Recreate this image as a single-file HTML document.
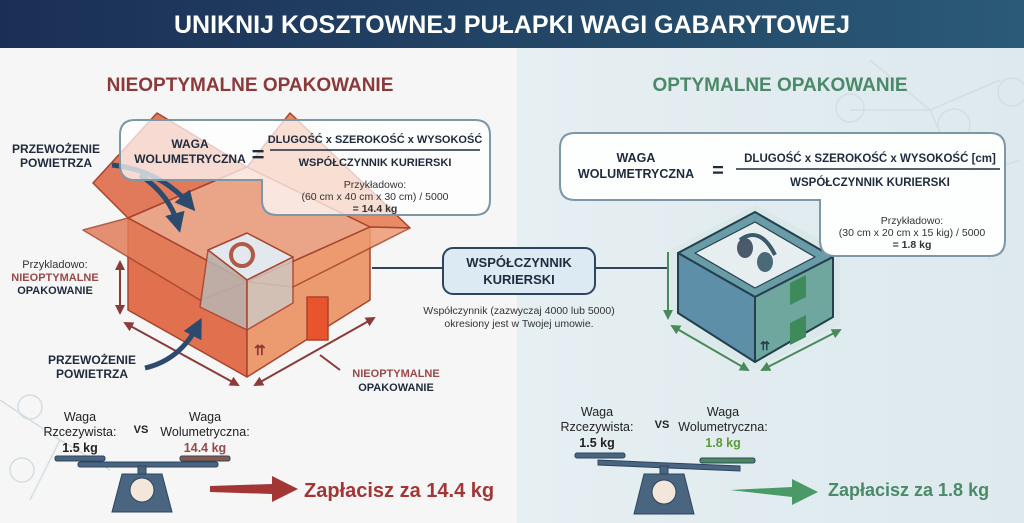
<!DOCTYPE html>
<html><head><meta charset="utf-8"><style>
html,body{margin:0;padding:0;width:1024px;height:523px;overflow:hidden;font-family:"Liberation Sans",sans-serif}
</style></head><body>
<svg width="1024" height="523" viewBox="0 0 1024 523" xmlns="http://www.w3.org/2000/svg" font-family="Liberation Sans, sans-serif">
<defs>
<linearGradient id="hdr" x1="0" x2="1"><stop offset="0" stop-color="#1b2f55"/><stop offset="1" stop-color="#2a5a76"/></linearGradient>
<linearGradient id="rbg" x1="0" x2="1"><stop offset="0" stop-color="#e6eff2"/><stop offset="1" stop-color="#dde9ee"/></linearGradient>
<marker id="ah" viewBox="0 0 10 10" refX="8" refY="5" markerWidth="5" markerHeight="5" orient="auto-start-reverse"><path d="M0,0L10,5L0,10z" fill="#8b3a3a"/></marker>
<marker id="ag" viewBox="0 0 10 10" refX="8" refY="5" markerWidth="5" markerHeight="5" orient="auto-start-reverse"><path d="M0,0L10,5L0,10z" fill="#4a8a5a"/></marker>
<marker id="an" viewBox="0 0 10 10" refX="6" refY="5" markerWidth="4" markerHeight="4" orient="auto"><path d="M0,0L10,5L0,10z" fill="#2c4a6e"/></marker>
</defs>
<rect width="1024" height="523" fill="#f6f6f6"/>
<rect x="517" y="48" width="507" height="475" fill="url(#rbg)"/>
<g stroke="#d4dde2" stroke-width="1.5" fill="none">
<path d="M870,60L930,110L1000,80M930,110L960,180L1020,160M850,110L930,110M960,180L990,260M0,400L60,440L30,500M60,440L110,470"/>
<circle cx="850" cy="108" r="14"/><circle cx="954" cy="125" r="16"/><circle cx="1012" cy="92" r="14"/><circle cx="22" cy="470" r="12"/><circle cx="30" cy="407" r="12"/>
</g>
<rect width="1024" height="48" fill="url(#hdr)"/>
<text x="512" y="33" text-anchor="middle" fill="#fff" font-size="25" font-weight="bold">UNIKNIJ KOSZTOWNEJ PUŁAPKI WAGI GABARYTOWEJ</text>
<text x="250" y="91" text-anchor="middle" fill="#8b3a3a" font-size="19" font-weight="bold">NIEOPTYMALNE OPAKOWANIE</text>
<text x="780" y="91" text-anchor="middle" fill="#4a8a68" font-size="19" font-weight="bold">OPTYMALNE OPAKOWANIE</text>

<!-- orange box -->
<g stroke="#a8442e" stroke-width="1.5" stroke-linejoin="round">
<polygon points="93,183 157,113 247,167 128,218" fill="#e07a5a"/>
<polygon points="247,167 290,113 410,228 370,227" fill="#e88a66"/>
<polygon points="128,218 247,167 370,227 247,282" fill="#eaa488"/>
<polygon points="128,218 247,282 247,377 128,310" fill="#e0704e"/>
<polygon points="247,282 370,227 370,300 247,377" fill="#ec9a70"/>
<polygon points="83,230 128,218 247,282 200,300" fill="#e27e5a" opacity="0.85"/>
<polygon points="370,227 410,228 293,287 247,282" fill="#ee9a72" opacity="0.85"/>
<polygon points="208,250 247,233 293,257 247,280" fill="#e3e8ee"/>
<polygon points="208,250 247,280 247,330 200,307" fill="#b9b6b2" opacity="0.85"/>
<polygon points="247,280 293,257 293,303 247,330" fill="#cfc7c0" opacity="0.85"/>
<rect x="307" y="297" width="21" height="43" fill="#e8542e"/>
</g>
<circle cx="242" cy="255" r="11" fill="none" stroke="#b05a44" stroke-width="4"/>
<text x="254" y="355" fill="#8b3a3a" font-size="14" font-weight="bold">⇈</text>
<line x1="120" y1="262" x2="120" y2="313" stroke="#8b3a3a" stroke-width="2" marker-start="url(#ah)" marker-end="url(#ah)"/>
<line x1="125" y1="323" x2="238" y2="385" stroke="#8b3a3a" stroke-width="2" marker-start="url(#ah)" marker-end="url(#ah)"/>
<line x1="255" y1="385" x2="374" y2="318" stroke="#8b3a3a" stroke-width="2" marker-start="url(#ah)" marker-end="url(#ah)"/>
<line x1="320" y1="355" x2="340" y2="370" stroke="#8b3a3a" stroke-width="2"/>
<path d="M112,165 Q160,170 190,205" stroke="#2c4a6e" stroke-width="5" fill="none" marker-end="url(#an)"/>
<path d="M140,175 Q170,195 178,225" stroke="#2c4a6e" stroke-width="5" fill="none" marker-end="url(#an)"/>
<path d="M145,368 Q180,360 198,325" stroke="#2c4a6e" stroke-width="5" fill="none" marker-end="url(#an)"/>

<!-- left formula -->
<path d="M135,120 H475 Q490,120 490,135 V200 Q490,215 475,215 H277 Q262,215 262,200 V180 H135 Q120,180 120,165 V135 Q120,120 135,120Z" fill="#fff" fill-opacity="0.72" stroke="#7c98a8" stroke-width="2"/>
<g font-weight="bold" fill="#1f2b3d" text-anchor="middle">
<text x="190" y="148" font-size="12">WAGA</text><text x="190" y="163" font-size="12">WOLUMETRYCZNA</text>
<text x="258" y="162" font-size="22">=</text>
<text x="375" y="143" font-size="11">DLUGOŚĆ x SZEROKOŚĆ x WYSOKOŚĆ</text>
<line x1="270" y1="150" x2="480" y2="150" stroke="#1f2b3d" stroke-width="1.5"/>
<text x="375" y="166" font-size="11">WSPÓŁCZYNNIK KURIERSKI</text>
</g>
<g font-size="10.5" fill="#333" text-anchor="middle"><text x="375" y="188">Przykładowo:</text><text x="375" y="200">(60 cm x 40 cm x 30 cm) / 5000</text><text x="375" y="212" font-weight="bold">= 14.4 kg</text></g>
<g font-size="12" font-weight="bold" fill="#1f2b3d" text-anchor="middle"><text x="56" y="153">PRZEWOŻENIE</text><text x="56" y="167">POWIETRZA</text>
<text x="92" y="364">PRZEWOŻENIE</text><text x="92" y="378">POWIETRZA</text></g>
<g font-size="11" text-anchor="middle"><text x="55" y="268" fill="#333">Przykladowo:</text><text x="55" y="281" fill="#9a4848" font-weight="bold">NIEOPTYMALNE</text><text x="55" y="294" fill="#1f2b3d" font-weight="bold">OPAKOWANIE</text>
<text x="396" y="377" fill="#9a4848" font-weight="bold">NIEOPTYMALNE</text><text x="396" y="391" fill="#1f2b3d" font-weight="bold">OPAKOWANIE</text></g>

<!-- center -->
<line x1="372" y1="268" x2="443" y2="268" stroke="#2e4560" stroke-width="2"/>
<line x1="595" y1="268" x2="668" y2="268" stroke="#2e4560" stroke-width="2"/>
<rect x="443" y="248" width="152" height="46" rx="10" fill="#dbeaf3" stroke="#2e4560" stroke-width="2"/>
<g font-weight="bold" font-size="13" fill="#1f2b3d" text-anchor="middle"><text x="519" y="267">WSPÓŁCZYNNIK</text><text x="519" y="284">KURIERSKI</text></g>
<g font-size="10.5" fill="#333" text-anchor="middle"><text x="519" y="314">Współczynnik (zazwyczaj 4000 lub 5000)</text><text x="519" y="327">okresiony jest w Twojej umowie.</text></g>

<!-- green cube -->
<polygon points="755,205 840,250 840,325 755,370 670,325 670,250" fill="#d5e6e6" opacity="0.6"/>
<g stroke="#243f4e" stroke-width="2" stroke-linejoin="round">
<polygon points="678,253 755,212 833,257 755,297" fill="#6a9ca8"/>
<polygon points="695,253 755,222 815,257 755,288" fill="#e7eef0" stroke-width="1.2"/>
<polygon points="678,253 755,297 755,362 678,313" fill="#5d90a8"/>
<polygon points="755,297 833,257 833,317 755,362" fill="#6fa79e"/>
</g>
<polygon points="790,283 806,275 806,297 790,305" fill="#3f8a5a"/>
<polygon points="790,323 806,315 806,337 790,345" fill="#3f8a5a"/>
<ellipse cx="745" cy="248" rx="8" ry="10" fill="#4a5a6a"/><ellipse cx="765" cy="262" rx="8" ry="10" fill="#4a6a7a"/>
<path d="M740,240 Q760,225 775,255" stroke="#3a5a6a" stroke-width="4" fill="none"/>
<text x="760" y="350" fill="#243f4e" font-size="12" font-weight="bold">⇈</text>
<line x1="668" y1="252" x2="668" y2="318" stroke="#4a8a5a" stroke-width="2" marker-end="url(#ag)"/>
<line x1="672" y1="326" x2="748" y2="370" stroke="#4a8a5a" stroke-width="2" marker-start="url(#ag)" marker-end="url(#ag)"/>
<line x1="762" y1="370" x2="840" y2="330" stroke="#4a8a5a" stroke-width="2" marker-start="url(#ag)" marker-end="url(#ag)"/>

<path d="M575,133 H990 Q1005,133 1005,148 V240 Q1005,256 990,256 H835 Q820,256 820,240 V200 H575 Q560,200 560,185 V148 Q560,133 575,133Z" fill="#fff" fill-opacity="0.92" stroke="#7c98a8" stroke-width="2"/>
<g font-weight="bold" fill="#1f2b3d" text-anchor="middle">
<text x="636" y="162" font-size="12.5">WAGA</text><text x="636" y="178" font-size="12.5">WOLUMETRYCZNA</text>
<text x="718" y="177" font-size="20">=</text>
<text x="870" y="162" font-size="11.5">DLUGOŚĆ x SZEROKOŚĆ x WYSOKOŚĆ [cm]</text>
<line x1="736" y1="169" x2="1000" y2="169" stroke="#1f2b3d" stroke-width="1.5"/>
<text x="870" y="186" font-size="11.5">WSPÓŁCZYNNIK KURIERSKI</text>
</g>
<g font-size="10.5" fill="#333" text-anchor="middle"><text x="912" y="224">Przykładowo:</text><text x="912" y="236">(30 cm x 20 cm x 15 kig) / 5000</text><text x="912" y="248" font-weight="bold">= 1.8 kg</text></g>

<!-- scales -->
<g font-size="12.5" fill="#222" text-anchor="middle">
<text x="80" y="421">Waga</text><text x="80" y="436">Rzcezywista:</text><text x="80" y="452" font-weight="bold">1.5 kg</text>
<text x="141" y="433" font-weight="bold" font-size="11">VS</text>
<text x="205" y="421">Waga</text><text x="205" y="436">Wolumetryczna:</text><text x="205" y="452" font-weight="bold" fill="#9a4848">14.4 kg</text>
<text x="597" y="416">Waga</text><text x="597" y="431">Rzcezywista:</text><text x="597" y="447" font-weight="bold">1.5 kg</text>
<text x="662" y="428" font-weight="bold" font-size="11">VS</text>
<text x="723" y="416">Waga</text><text x="723" y="431">Wolumetryczna:</text><text x="723" y="447" font-weight="bold" fill="#5a9a3a">1.8 kg</text>
</g>
<g fill="#4a6580" stroke="#2e4560" stroke-width="1">
<rect x="55" y="456" width="50" height="5" rx="2"/><rect x="180" y="456" width="50" height="5" fill="#8a5a48" rx="2"/>
<rect x="78" y="462" width="140" height="5" rx="2"/>
<rect x="138" y="466" width="8" height="10"/>
<path d="M122,474H162L172,512H112Z"/>
<circle cx="142" cy="490" r="12" fill="#f3e6da"/>
<rect x="575" y="453" width="50" height="5" rx="2"/><rect x="700" y="458" width="55" height="5" rx="2" fill="#4a8a5a"/>
<path d="M598,460L740,466L740,471L598,465Z"/>
<rect x="660" y="466" width="8" height="10"/>
<path d="M644,474H684L694,514H634Z"/>
<circle cx="664" cy="492" r="12" fill="#f3e6da"/>
</g>
<path d="M210,486L272,484V476L298,489L272,502V494L210,492Z" fill="#a33535"/>
<text x="304" y="497" fill="#a33535" font-size="20" font-weight="bold">Zapłacisz za 14.4 kg</text>
<path d="M730,490L792,487V479L818,492L792,505V497Z" fill="#4a9a68"/>
<text x="828" y="496" fill="#4a8a68" font-size="18" font-weight="bold">Zapłacisz za 1.8 kg</text>
</svg>
</body></html>
